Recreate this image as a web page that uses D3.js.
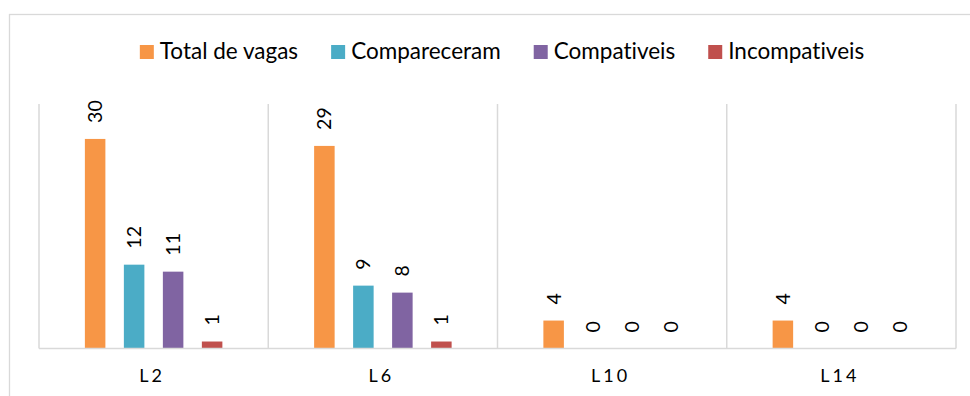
<!DOCTYPE html>
<html>
<head>
<meta charset="utf-8">
<script src="https://cdn.jsdelivr.net/npm/d3@7"></script>
<style>
  html, body { margin: 0; padding: 0; background: #fff; }
  svg { display: block; }
  text { font-family: Lato, "Open Sans", sans-serif; font-variant-ligatures: none; }
</style>
</head>
<body>
<svg id="chart" width="970" height="396"></svg>
<script>
// Vagas por linha
const categories = ["L2", "L6", "L10", "L14"];
const seriesNames = ["Total de vagas", "Compareceram", "Compativeis", "Incompativeis"];
const totalVagas    = [30, 29, 4, 4];
const compareceram  = [12, 9, 0, 0];
const compativeis   = [11, 8, 0, 0];
const incompativeis = [1, 1, 0, 0];
const seriesColors = ["#F79646", "#4BACC6", "#8064A2", "#C0504D"];
const yMax = 35;

const seriesValues = [totalVagas, compareceram, compativeis, incompativeis];

const svg = d3.select("#chart");
const W = 970, H = 396;
const plot = { left: 39, right: 956, top: 104, bottom: 348.5 };

// chart frame
svg.append("rect")
  .attr("x", 9.5).attr("y", 14.5)
  .attr("width", W).attr("height", H)
  .attr("fill", "#fff")
  .attr("stroke", "#D9D9D9").attr("stroke-width", 1.3);

const x0 = d3.scaleBand().domain(categories).range([plot.left, plot.right]).padding(0);
const groupWidth = 137.5;
const x1 = d3.scaleBand().domain(seriesNames)
  .range([0, groupWidth]).paddingInner(0.474).paddingOuter(0);
const y = d3.scaleLinear().domain([0, yMax]).range([plot.bottom, plot.top]);

// category separators
const seps = d3.range(categories.length + 1).map(i =>
  i < categories.length ? x0(categories[i]) : x0(categories[categories.length - 1]) + x0.bandwidth());
svg.append("g").selectAll("line").data(seps).join("line")
  .attr("x1", d => d).attr("x2", d => d)
  .attr("y1", plot.top).attr("y2", plot.bottom)
  .attr("stroke", "#D9D9D9").attr("stroke-width", 1.5);

// bars
const data = categories.flatMap((c, ci) =>
  seriesNames.map((s, si) => ({ cat: c, series: s, value: seriesValues[si][ci], color: seriesColors[si] })));
const groupOffset = (x0.bandwidth() - groupWidth) / 2;
const g = svg.append("g");
g.selectAll("rect").data(data).join("rect")
  .attr("x", d => x0(d.cat) + groupOffset + x1(d.series))
  .attr("y", d => y(d.value))
  .attr("width", x1.bandwidth())
  .attr("height", d => y(0) - y(d.value))
  .attr("fill", d => d.color);

// value labels, rotated
g.selectAll("text").data(data).join("text")
  .attr("transform", d => {
    const cx = x0(d.cat) + groupOffset + x1(d.series) + x1.bandwidth() / 2;
    return `translate(${cx},${y(d.value) - 16}) rotate(-90)`;
  })
  .attr("text-anchor", "start")
  .attr("dy", "0.36em")
  .attr("font-size", 19.5)
  .attr("fill", "#000")
  .text(d => d.value);

// x axis baseline
svg.append("line")
  .attr("x1", plot.left).attr("x2", plot.right)
  .attr("y1", plot.bottom).attr("y2", plot.bottom)
  .attr("stroke", "#D9D9D9").attr("stroke-width", 1.5);

// category labels
const xAxis = d3.axisBottom(x0).tickSize(0).tickPadding(0);
const ax = svg.append("g").attr("transform", `translate(0,${plot.bottom})`).call(xAxis);
ax.select(".domain").remove();
ax.selectAll("text")
  .attr("y", 33)
  .attr("dy", 0)
  .attr("x", -1.5)
  .attr("font-size", 18)
  .attr("font-family", "Lato, sans-serif")
  .attr("letter-spacing", "3px")
  .attr("fill", "#000");

// legend
const legend = svg.append("g");
const items = legend.selectAll("g").data(seriesNames).join("g");
items.append("rect").attr("width", 14).attr("height", 14).attr("y", -14)
  .attr("fill", (d, i) => seriesColors[i]);
items.append("text").attr("x", 20).attr("y", 0)
  .attr("font-size", 22.5).attr("fill", "#000").text(d => d);
let xpos = 0;
const gap = 33;
items.each(function () {
  const w = 20 + d3.select(this).select("text").node().getComputedTextLength();
  d3.select(this).attr("transform", `translate(${xpos},59)`);
  xpos += w + gap;
});
const legendWidth = xpos - gap;
legend.attr("transform", `translate(${502 - legendWidth / 2},0)`);
</script>
</body>
</html>
